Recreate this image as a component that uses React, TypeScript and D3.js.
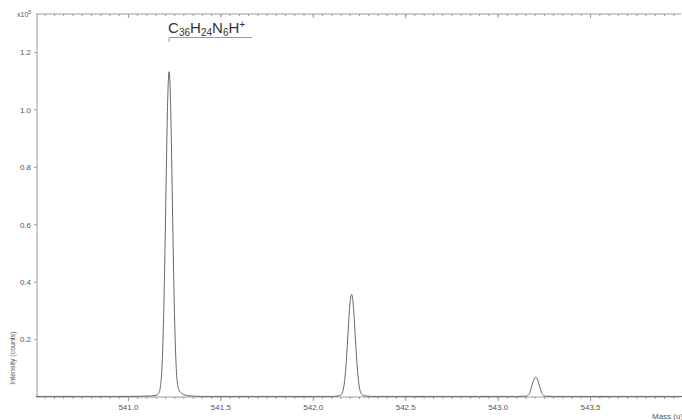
import React, { useRef, useEffect } from 'react';
import * as d3 from 'd3';

// profile trace (mass in u, intensity in 1e5 counts)
const mass = [
  540.50, 540.80, 541.00, 541.100, 541.150, 541.165,
  541.1767, 541.1856, 541.1926, 541.1992, 541.2051, 541.2099, 541.2143, 541.220,
  541.2257, 541.2301, 541.2349, 541.2408, 541.2474, 541.2544, 541.2633,
  541.275, 541.290, 541.320, 541.400, 541.70, 542.00,
  542.100, 542.142, 542.159, 542.169, 542.1767, 542.184, 542.1905, 542.1958, 542.2007, 542.207,
  542.2133, 542.2182, 542.2235, 542.230, 542.2373, 542.245, 542.255, 542.272, 542.320,
  542.60, 542.90,
  543.100, 543.153, 543.169, 543.1805, 543.192, 543.203, 543.214, 543.2255, 543.237, 543.253, 543.300,
  543.60, 544.00,
];
const intensity = [
  0.002, 0.002, 0.002, 0.003, 0.006, 0.015,
  0.057, 0.170, 0.340, 0.567, 0.793, 0.963, 1.076, 1.133,
  1.076, 0.963, 0.793, 0.567, 0.340, 0.170, 0.057,
  0.022, 0.012, 0.005, 0.002, 0.002, 0.002,
  0.002, 0.005, 0.018, 0.054, 0.107, 0.179, 0.251, 0.305, 0.340, 0.358,
  0.340, 0.305, 0.251, 0.179, 0.107, 0.054, 0.018, 0.005, 0.002,
  0.002, 0.002,
  0.002, 0.003, 0.012, 0.035, 0.059, 0.069, 0.059, 0.035, 0.012, 0.003, 0.002,
  0.002, 0.002,
];

const xMajorTicks = [541.0, 541.5, 542.0, 542.5, 543.0, 543.5];
const yTicks = [0.2, 0.4, 0.6, 0.8, 1.0, 1.2];
const peakLabelMass = 541.22;

export default function App() {
  const svgRef = useRef<SVGSVGElement>(null);
  const width = 682;
  const height = 420;

  useEffect(() => {
    const svg = d3.select(svgRef.current);
    svg.selectAll('*').remove();

    const x = d3.scaleLinear().domain([540.5, 544.0]).range([36, 683]);
    const y = d3.scaleLinear().domain([0, 1.334]).range([397, 14]);
    const axisColor = '#9a9a9a';
    const labelColor = '#555';
    const font = 'Liberation Sans, Arial, sans-serif';

    const minor = d3.range(540.55, 544.0, 0.05).map(v => +v.toFixed(2));

    // bottom axis
    const bottom = svg.append('g').attr('transform', `translate(0,${y(0)})`);
    bottom.append('line').attr('x1', x(540.5)).attr('x2', 681)
      .attr('stroke', axisColor).attr('stroke-width', 1);
    bottom.selectAll('line.minor').data(minor).join('line').attr('class', 'minor')
      .attr('x1', d => x(d)).attr('x2', d => x(d)).attr('y1', 0).attr('y2', 2)
      .attr('stroke', axisColor);
    bottom.selectAll('line.major').data(xMajorTicks).join('line').attr('class', 'major')
      .attr('x1', d => x(d)).attr('x2', d => x(d)).attr('y1', 0).attr('y2', 4)
      .attr('stroke', axisColor);
    bottom.selectAll('text').data(xMajorTicks).join('text')
      .attr('x', d => x(d)).attr('y', 12.5)
      .attr('text-anchor', 'middle')
      .style('font-family', font).style('font-size', '8px').attr('fill', labelColor)
      .text(d => d.toFixed(1));

    // top axis
    const top = svg.append('g').attr('transform', `translate(0,${y.range()[1]})`);
    top.append('line').attr('x1', x(540.5)).attr('x2', 681)
      .attr('stroke', axisColor);
    top.selectAll('line.minor').data(minor).join('line').attr('class', 'minor')
      .attr('x1', d => x(d)).attr('x2', d => x(d)).attr('y1', 0).attr('y2', 2)
      .attr('stroke', axisColor);
    top.selectAll('line.major').data(xMajorTicks).join('line').attr('class', 'major')
      .attr('x1', d => x(d)).attr('x2', d => x(d)).attr('y1', 0).attr('y2', 4)
      .attr('stroke', axisColor);

    // left axis
    const left = svg.append('g').attr('transform', `translate(${x(540.5) + 1},0)`);
    left.append('line').attr('y1', y.range()[1]).attr('y2', y(0))
      .attr('stroke', axisColor);
    left.selectAll('line.tick').data(yTicks).join('line').attr('class', 'tick')
      .attr('x1', -3).attr('x2', 0).attr('y1', d => y(d)).attr('y2', d => y(d))
      .attr('stroke', axisColor);
    left.selectAll('text').data(yTicks).join('text')
      .attr('x', -6).attr('y', d => y(d)).attr('dy', '0.35em')
      .attr('text-anchor', 'end')
      .style('font-family', font).style('font-size', '8px').attr('fill', labelColor)
      .text(d => d.toFixed(1));

    // x10^5 multiplier
    const mult = svg.append('text').attr('x', 17).attr('y', 17)
      .style('font-family', font).style('font-size', '7px').attr('fill', labelColor);
    mult.append('tspan').text('x10');
    mult.append('tspan').attr('dy', -3).style('font-size', '5px').text('5');

    // axis titles
    svg.append('text')
      .attr('transform', `translate(15,358) rotate(-90)`)
      .attr('text-anchor', 'middle')
      .style('font-family', font).style('font-size', '7px').attr('fill', labelColor)
      .text('Intensity (counts)');
    svg.append('text').attr('x', 652).attr('y', 418.5)
      .style('font-family', font).style('font-size', '8px').attr('fill', labelColor)
      .text('Mass (u)');

    // spectrum trace
    const line = d3.line<number>()
      .x((_, i) => x(mass[i]))
      .y(d => y(d))
      .curve(d3.curveMonotoneX);
    svg.append('path').datum(intensity)
      .attr('d', line)
      .attr('fill', 'none').attr('stroke', '#666').attr('stroke-width', 1);

    // formula annotation with bracket
    const px = x(peakLabelMass);
    svg.append('path')
      .attr('d', `M${px},42 V37.5 H252`)
      .attr('fill', 'none').attr('stroke', '#999').attr('stroke-width', 1);
    const f = svg.append('text').attr('x', px - 1).attr('y', 33)
      .style('font-family', font).style('font-size', '15px').attr('fill', '#333');
    const parts: [string, string][] = [
      ['C', ''], ['36', 'sub'], ['H', ''], ['24', 'sub'], ['N', ''], ['6', 'sub'], ['H', ''], ['+', 'sup'],
    ];
    let shift = 0;
    parts.forEach(([t, kind]) => {
      const target = kind === 'sub' ? 3 : kind === 'sup' ? -5 : 0;
      const sp = f.append('tspan').attr('dy', target - shift).text(t);
      if (kind) sp.style('font-size', '10px');
      shift = target;
    });
  }, []);

  return (
    <svg ref={svgRef} width={width} height={height}
      style={{ position: 'absolute', left: 0, top: 0, background: '#fff' }} />
  );
}
